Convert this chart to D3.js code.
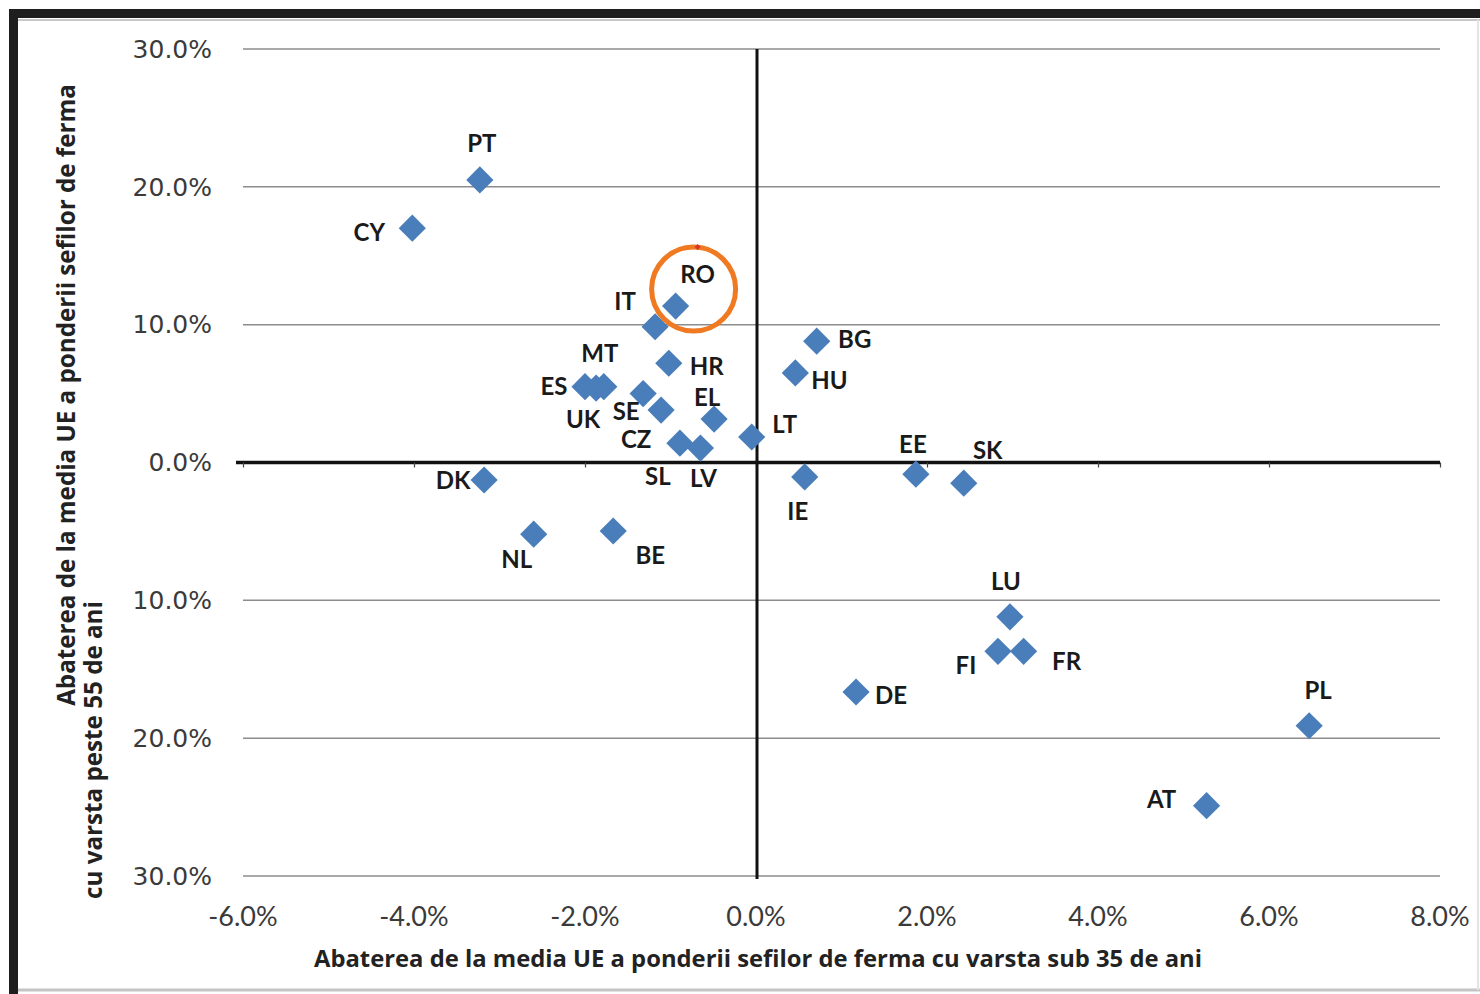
<!DOCTYPE html>
<html>
<head>
<meta charset="utf-8">
<script src="https://cdn.jsdelivr.net/npm/d3@7"></script>
<style>
    body { margin: 0; background: #fff; }
    svg { display: block; }
</style>
</head>
<body>
<div id="chart_container"></div>
<script>
    'use strict';

    // country codes and deviations from EU average (percentage points)
    var countries = ["PT", "CY", "RO", "IT", "HR", "ES", "UK", "MT", "SE", "CZ", "EL", "SL", "LV", "LT",
        "BG", "HU", "IE", "DK", "NL", "BE", "EE", "SK", "LU", "FI", "FR", "DE", "PL", "AT"];
    var under35 = [-3.23, -4.02, -0.94, -1.18, -1.02, -2.0, -1.87, -1.78, -1.32, -1.11, -0.49, -0.89, -0.65, -0.05,
        0.71, 0.46, 0.57, -3.18, -2.6, -1.67, 1.87, 2.43, 2.97, 2.83, 3.13, 1.17, 6.47, 5.27];
    var over55 = [20.5, 17.0, 11.35, 9.85, 7.2, 5.5, 5.4, 5.5, 5.0, 3.8, 3.15, 1.4, 1.05, 1.85,
        8.8, 6.5, -1.05, -1.27, -5.2, -4.97, -0.85, -1.5, -11.2, -13.7, -13.7, -16.65, -19.1, -24.9];

    var xTicks = [-6, -4, -2, 0, 2, 4, 6, 8];
    var yTicks = [30, 20, 10, 0, -10, -20, -30];

    var xTitle = "Abaterea de la media UE a ponderii sefilor de ferma cu varsta sub 35 de ani";
    var yTitle1 = "Abaterea de la media UE a ponderii sefilor de ferma";
    var yTitle2 = "cu varsta peste 55 de ani";

    // label placement relative to the marker
    var labelOffset = {
        PT: [2, -36], CY: [-43, 4], RO: [22, -31], IT: [-30, -25], HR: [38, 3],
        ES: [-31, 0], UK: [-13, 32], MT: [-4, -33], SE: [-17, 18], CZ: [-25, 29],
        EL: [-7, -21], SL: [-22, 33], LV: [3, 31], LT: [33, -12], BG: [38, -2],
        HU: [34, 8], IE: [-7, 35], DK: [-31, 1], NL: [-17, 25], BE: [37, 25],
        EE: [-3, -30], SK: [24, -33], LU: [-4, -35], FI: [-32, 14], FR: [43, 10],
        DE: [35, 4], PL: [9, -35], AT: [-45, -6]
    };

    var width = 1480;
    var height = 994;
    var marker_color = "#4a7ebb";
    var grid_color = "#8c8c8c";
    var tick_color = "#3a3a3a";
    var label_font = "Lato, 'Open Sans', sans-serif";
    var title_font = "'Open Sans', Lato, sans-serif";
    var tick_font = "'DejaVu Sans', Verdana, sans-serif";

    var points = countries.map(function(c, i) {
        return { id: c, x: under35[i], y: over55[i] };
    });

    var x = d3.scaleLinear().domain([-6, 8]).range([243, 1440]);
    var y = d3.scaleLinear().domain([-30, 30]).range([876, 49]);

    var svg = d3.select("#chart_container").append("svg")
        .attr("width", width)
        .attr("height", height);

    // screenshot frame
    svg.append("rect").attr("x", 9).attr("y", 9).attr("width", width - 9).attr("height", 9).attr("fill", "#1e1e1e");
    svg.append("rect").attr("x", 9).attr("y", 9).attr("width", 9).attr("height", height - 9).attr("fill", "#1e1e1e");
    svg.append("line").attr("x1", 18).attr("x2", width).attr("y1", 20).attr("y2", 20)
        .attr("stroke", "#c8c8c8").attr("stroke-width", 2);
    svg.append("line").attr("x1", 18).attr("x2", width).attr("y1", 990).attr("y2", 990)
        .attr("stroke", "#c4c4c4").attr("stroke-width", 3);
    svg.append("line").attr("x1", 1478).attr("x2", 1478).attr("y1", 20).attr("y2", 990)
        .attr("stroke", "#e4e4e4").attr("stroke-width", 2);

    // horizontal gridlines (value 0 drawn as axis)
    svg.append("g")
        .attr("class", "grid")
        .selectAll("line")
        .data(yTicks.filter(function(d) { return d !== 0; }))
        .enter().append("line")
        .attr("x1", x(-6))
        .attr("x2", x(8))
        .attr("y1", function(d) { return y(d); })
        .attr("y2", function(d) { return y(d); })
        .attr("stroke", grid_color)
        .attr("stroke-width", 1.5);

    // y tick labels, negatives shown without sign as in the original
    svg.append("g")
        .selectAll("text")
        .data(yTicks)
        .enter().append("text")
        .attr("x", 212)
        .attr("y", function(d) { return y(d); })
        .attr("dy", "0.35em")
        .attr("text-anchor", "end")
        .style("font-family", tick_font)
        .style("font-size", "25px")
        .style("fill", tick_color)
        .text(function(d) { return Math.abs(d).toFixed(1) + "%"; });

    // x axis on the zero line
    var xAxis = d3.axisBottom(x)
        .tickValues(xTicks)
        .tickSize(5)
        .tickSizeOuter(0)
        .tickFormat("");
    var xg = svg.append("g")
        .attr("transform", "translate(0," + y(0) + ")")
        .call(xAxis);
    xg.select(".domain").attr("stroke", "#111").attr("stroke-width", 3.5).attr("d", "M236,0H" + x(8));
    xg.selectAll(".tick line").attr("stroke", "#444").attr("stroke-width", 1.2);

    // vertical axis at x = 0
    svg.append("line")
        .attr("x1", x(0) + 1).attr("x2", x(0) + 1)
        .attr("y1", y(30)).attr("y2", y(-30) + 3)
        .attr("stroke", "#111")
        .attr("stroke-width", 3);

    // x tick labels along the bottom
    svg.append("g")
        .selectAll("text")
        .data(xTicks)
        .enter().append("text")
        .attr("x", function(d) { return x(d); })
        .attr("y", 917)
        .attr("dy", "0.35em")
        .attr("text-anchor", "middle")
        .style("font-family", label_font)
        .style("font-size", "27px")
        .style("fill", tick_color)
        .text(function(d) { return d.toFixed(1) + "%"; });

    // axis titles
    svg.append("text")
        .attr("x", 758)
        .attr("y", 959)
        .attr("dy", "0.35em")
        .attr("text-anchor", "middle")
        .style("font-family", title_font)
        .style("font-weight", "bold")
        .style("font-size", "23.8px")
        .style("fill", "#222")
        .text(xTitle);

    svg.append("text")
        .attr("transform", "translate(67,395)rotate(-90)")
        .attr("dy", "0.35em")
        .attr("text-anchor", "middle")
        .style("font-family", title_font)
        .style("font-weight", "bold")
        .style("font-size", "24.2px")
        .style("fill", "#222")
        .text(yTitle1);

    svg.append("text")
        .attr("transform", "translate(94,750)rotate(-90)")
        .attr("dy", "0.35em")
        .attr("text-anchor", "middle")
        .style("font-family", title_font)
        .style("font-weight", "bold")
        .style("font-size", "24.2px")
        .style("fill", "#222")
        .text(yTitle2);

    // markers: squares turned 45 degrees
    svg.append("g")
        .attr("class", "nodes")
        .selectAll("path")
        .data(points)
        .enter().append("path")
        .attr("d", d3.symbol().type(d3.symbolSquare).size(370))
        .attr("transform", function(d) {
            return "translate(" + x(d.x) + "," + y(d.y) + ")rotate(45)";
        })
        .style("fill", marker_color);

    svg.append("g")
        .attr("class", "labels")
        .selectAll("text")
        .data(points)
        .enter().append("text")
        .attr("x", function(d) { return x(d.x) + labelOffset[d.id][0]; })
        .attr("y", function(d) { return y(d.y) + labelOffset[d.id][1]; })
        .attr("dy", "0.35em")
        .attr("text-anchor", "middle")
        .style("font-family", label_font)
        .style("font-weight", "bold")
        .style("font-size", "24px")
        .style("fill", "#1a1a1a")
        .text(function(d) { return d.id; });

    // highlight around Romania
    var ro = points.filter(function(d) { return d.id === "RO"; })[0];
    svg.append("ellipse")
        .attr("cx", x(ro.x) + 18)
        .attr("cy", y(ro.y) - 17)
        .attr("rx", 42)
        .attr("ry", 42)
        .attr("fill", "none")
        .attr("stroke", "#f07a22")
        .attr("stroke-width", 5);
    svg.append("path")
        .attr("d", d3.symbol().type(d3.symbolSquare).size(18))
        .attr("transform", "translate(" + (x(ro.x) + 22) + "," + (y(ro.y) - 59) + ")rotate(45)")
        .style("fill", "#e0302a");
</script>
</body>
</html>
